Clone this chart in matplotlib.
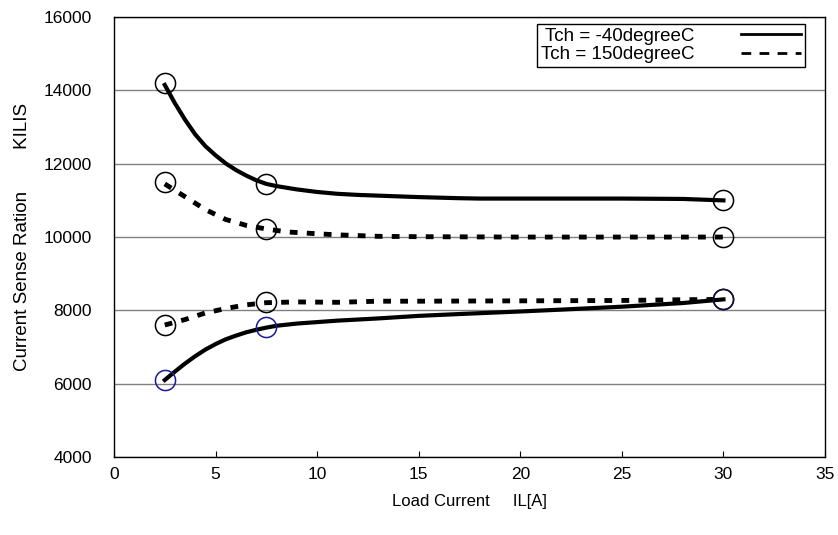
import matplotlib.pyplot as plt
from matplotlib.lines import Line2D

plt.rcParams['font.family'] = ['Liberation Sans', 'DejaVu Sans']

# Tch = -40 degC, upper curve
x_m40_hi = [2.5, 3, 3.5, 4, 4.5, 5, 5.5, 6, 6.5, 7, 7.5, 8, 9, 10, 11, 12, 13, 15, 17, 18, 20, 25, 28, 30]
y_m40_hi = [14150, 13650, 13200, 12800, 12480, 12230, 12010, 11830, 11680, 11550, 11450, 11390, 11300,
            11230, 11180, 11150, 11130, 11090, 11060, 11050, 11050, 11050, 11040, 11000]
# Tch = -40 degC, lower curve
x_m40_lo = [2.5, 3, 3.5, 4, 4.5, 5, 5.5, 6, 6.5, 7, 7.5, 8, 9, 10, 11, 12, 13, 15, 17, 20, 22, 25, 28, 30]
y_m40_lo = [6100, 6330, 6550, 6750, 6930, 7080, 7210, 7310, 7400, 7470, 7530, 7580, 7640, 7680, 7720,
            7750, 7780, 7850, 7900, 7970, 8020, 8100, 8200, 8300]
# Tch = 150 degC, upper curve
x_150_hi = [2.5, 3.5, 4.5, 5.5, 6.5, 7.5, 8.5, 10, 11, 12, 13, 15, 20, 25, 30]
y_150_hi = [11450, 11100, 10750, 10480, 10320, 10220, 10140, 10090, 10060, 10040, 10020, 10010, 10000, 10000, 10000]
# Tch = 150 degC, lower curve
x_150_lo = [2.5, 3.5, 4.5, 5.5, 6.5, 7.5, 9, 11, 13, 15, 20, 25, 28, 30]
y_150_lo = [7600, 7750, 7930, 8050, 8150, 8210, 8230, 8220, 8250, 8250, 8260, 8270, 8290, 8300]

# measured points (circles)
pts_x = [2.5, 7.5, 30]
pts_m40_hi = [14200, 11450, 11020]
pts_150_hi = [11500, 10230, 10000]
pts_150_lo = [7600, 8230, 8300]
pts_m40_lo = [6100, 7550, 8300]

fig = plt.figure(figsize=(8.38, 5.35), dpi=100)
ax = fig.add_axes([0.136, 0.1458, 0.8485, 0.8222])

ax.plot(x_m40_hi, y_m40_hi, color='black', lw=3)
ax.plot(x_m40_lo, y_m40_lo, color='black', lw=3)
ax.plot(x_150_hi, y_150_hi, color='black', lw=3.5, linestyle=(0, (1.6, 1.9)))
ax.plot(x_150_lo, y_150_lo, color='black', lw=3.5, linestyle=(0, (1.6, 1.9)))

circ = dict(marker='o', ms=14.5, mfc='none', mew=1.1, linestyle='none')
ax.plot(pts_x, pts_m40_hi, mec='black', **circ)
ax.plot(pts_x, pts_150_hi, mec='black', **circ)
ax.plot(pts_x, pts_150_lo, mec='black', **circ)
ax.plot(pts_x[:2], pts_m40_lo[:2], mec='#1a1a96', **circ)
ax.plot(pts_x[2:], pts_m40_lo[2:], mec='#10103a', **circ)

ax.set_xlim(0, 35)
ax.set_ylim(4000, 16000)
ax.set_xticks(range(0, 36, 5))
ax.set_yticks(range(4000, 16001, 2000))
ax.tick_params(direction='in', labelsize=12.5, length=4, width=0.8)
ax.tick_params(axis='x', pad=7)
ax.tick_params(axis='y', length=0, pad=16)
ax.grid(axis='y', color='#808080', lw=1)
ax.set_axisbelow(True)
for s in ax.spines.values():
    s.set_linewidth(1)

ax.set_xlabel('Load Current     IL[A]', fontsize=12, labelpad=9)
ax.set_ylabel('Current Sense Ration        KILIS', fontsize=13.5, labelpad=9)

handles = [Line2D([], [], color='black', lw=2),
           Line2D([], [], color='black', lw=2, linestyle=(0, (3.5, 3)))]
leg = ax.legend(handles, ['Tch = -40degreeC', 'Tch = 150degreeC'], loc='upper right',
                bbox_to_anchor=(0.972, 0.984), borderaxespad=0, fancybox=False,
                edgecolor='black', framealpha=1, markerfirst=False, fontsize=13.5,
                handlelength=3.2, handletextpad=2.5, borderpad=0.2, labelspacing=0.05)
leg.get_frame().set_linewidth(1)

fig.savefig('out.png', dpi=100)
